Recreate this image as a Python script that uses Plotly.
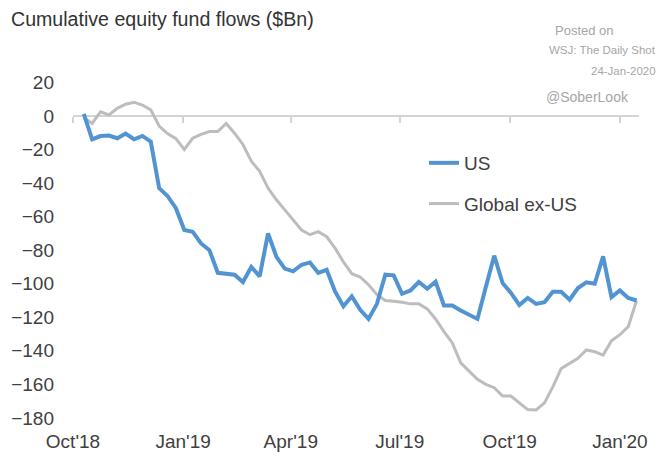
import pandas as pd
import plotly.graph_objects as go

# ---- data ----
dates = pd.date_range("2018-10-10", periods=67, freq="7D")

us = [1.2, -14, -12, -11.7, -13.3, -10.5, -13.9, -11.9, -15.3, -43,
      -47.7, -55, -68, -69, -76, -80, -93.5, -94, -94.6, -99,
      -90, -95.6, -70, -84, -91, -92.6, -88.7, -87.3, -93.6, -91.7,
      -104.6, -113.5, -107.5, -115.5, -121, -112, -94.6, -95, -106, -104,
      -99, -103, -98.8, -113, -113, -116, -118.5, -121, -102, -83.3,
      -99.6, -105.5, -112.7, -108.5, -112, -111, -104.8, -104.8, -109.5, -102.6,
      -99.2, -100, -83.7, -108, -104, -108.5, -110]

global_ex_us = [-1, -4.4, 2.5, 0.6, 4.5, 7, 8.2, 6.5, 3.6, -6,
                -10.5, -13.5, -20, -13.3, -11, -9.3, -9.3, -4.5, -10.3, -17,
                -27, -33, -43, -50, -56, -62, -68, -70.8, -69, -72,
                -78.8, -87, -94, -96, -100.6, -106.5, -110, -110.5, -111, -112,
                -112, -115, -121, -128.5, -135.3, -147.2, -152.2, -157, -160, -162,
                -167, -167, -171, -175, -175.2, -171, -161.5, -150.5, -147.5, -144.5,
                -139.5, -140.5, -142.5, -134, -130.4, -125.6, -110]

tick_dates = ["2018-10-01", "2019-01-01", "2019-04-01", "2019-07-01", "2019-10-01", "2020-01-01"]
tick_text = ["Oct'18", "Jan'19", "Apr'19", "Jul'19", "Oct'19", "Jan'20"]
y_ticks = [20, 0, -20, -40, -60, -80, -100, -120, -140, -160, -180]

# ---- layout constants ----
W, H = 660, 457
ML, MR, MT, MB = 73, 21, 74, 29
X_RANGE = ["2018-10-01", "2020-01-17"]
Y_RANGE = [-186, 25]
FONT = "Liberation Sans, Arial, sans-serif"
TXT = "#404040"
NOTE = "#a6a6a6"

pw = W - ML - MR
ph = H - MT - MB


def px(xp):
    return (xp - ML) / pw


def py(yp):
    return (H - MB - yp) / ph


fig = go.Figure()
fig.add_trace(go.Scatter(x=dates, y=us, name="US", mode="lines",
                         line=dict(color="#5294d2", width=4),
                         xaxis="x2", yaxis="y", legendgroup="a"))
fig.add_trace(go.Scatter(x=dates, y=global_ex_us, name="Global ex-US", mode="lines",
                         line=dict(color="#bdbdbd", width=3),
                         xaxis="x", yaxis="y", legendgroup="b"))

zero_pos = (0 - Y_RANGE[0]) / (Y_RANGE[1] - Y_RANGE[0])

fig.update_layout(
    width=W, height=H,
    margin=dict(l=ML, r=MR, t=MT, b=MB, pad=0, autoexpand=False),
    paper_bgcolor="white", plot_bgcolor="white",
    font=dict(family=FONT, size=19, color=TXT),
    title=dict(text="Cumulative equity fund flows ($Bn)", xref="container", yref="container",
               x=11 / W, y=1 - 19 / H, xanchor="left", yanchor="middle",
               font=dict(family=FONT, size=19.6, color="#333333")),
    xaxis=dict(range=X_RANGE, type="date", tickvals=tick_dates, ticktext=tick_text,
               showgrid=False, zeroline=False, showline=False, ticks="", automargin=False,
               tickfont=dict(size=19, color=TXT)),
    xaxis2=dict(range=X_RANGE, type="date", overlaying="x", anchor="free", position=zero_pos,
                side="bottom", tickvals=tick_dates, showticklabels=False, automargin=False,
                showgrid=False, zeroline=False, showline=True, linecolor="#d4d4d4", linewidth=1.5,
                ticks="outside", ticklen=6, tickcolor="#d4d4d4", tickwidth=1.5, layer="below traces"),
    yaxis=dict(range=Y_RANGE, tickvals=y_ticks, showgrid=False, zeroline=False, showline=False,
               ticks="", ticklabelstandoff=18, automargin=False, tickfont=dict(size=19, color=TXT)),
    legend=dict(x=px(424), y=py(144), xanchor="left", yanchor="top",
                bgcolor="rgba(0,0,0,0)", borderwidth=0, traceorder="grouped",
                tracegroupgap=13, font=dict(size=19, color=TXT)),
    showlegend=True,
)

notes = [
    ("Posted on", 553, 30, "left", 13),
    ("WSJ: The Daily Shot", 658, 50, "right", 11.5),
    ("24-Jan-2020", 658, 71, "right", 11.5),
    ("@SoberLook", 631, 97, "right", 14),
]
for text, xp, yp, anchor, size in notes:
    fig.add_annotation(text=text, xref="paper", yref="paper", x=px(xp), y=py(yp),
                       xanchor=anchor, yanchor="middle", showarrow=False,
                       font=dict(family=FONT, size=size, color=NOTE))

fig.write_html("out.html")
